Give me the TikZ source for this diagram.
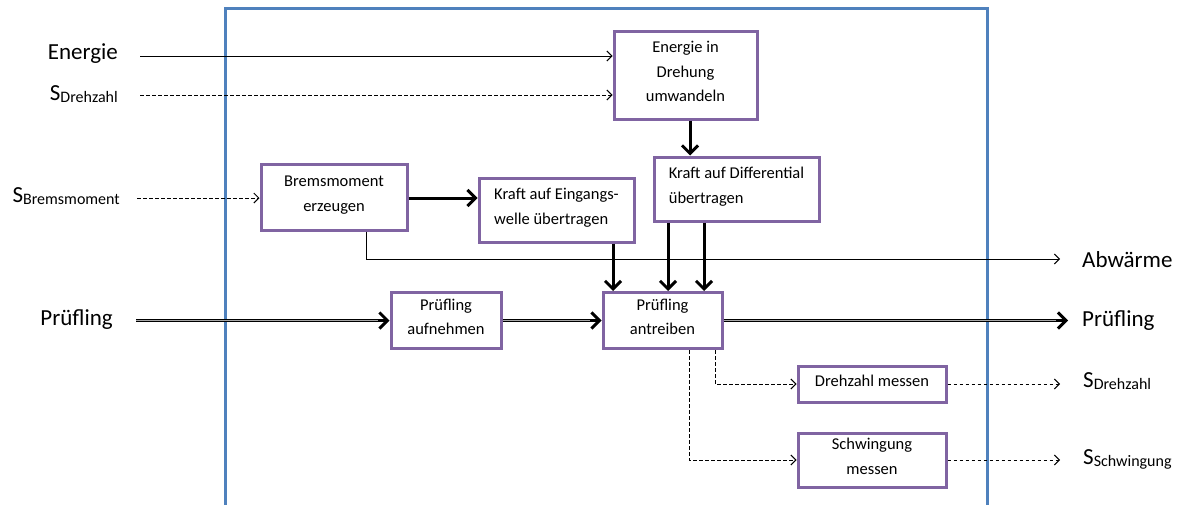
\documentclass[tikz,border=0pt]{standalone}
\usepackage{fontspec}
\setmainfont{Carlito}
\usetikzlibrary{arrows.meta,calc}
\definecolor{frameblue}{HTML}{4F81BD}
\definecolor{boxpurple}{HTML}{8064A2}
\newcommand\Ssub[1]{S\raisebox{-2pt}{\fontsize{16}{16}\selectfont #1}}
\begin{document}
\begin{tikzpicture}[x=1pt,y=-1pt,
  box/.style={draw=boxpurple,line width=3pt,fill=white,inner sep=0pt,align=center,
    text depth=7pt,font=\fontsize{16.5}{24.5}\selectfont},
  lbl/.style={font=\fontsize{23}{26}\selectfont,inner sep=0pt},
  thinarr/.style={line width=1pt,-{Straight Barb[length=5pt,width=10pt]}},
  dasharr/.style={line width=1pt,dash pattern=on 3.5pt off 2.5pt,-{Straight Barb[length=5pt,width=10pt]}},
  thickarr/.style={line width=3pt,-{Straight Barb[length=8pt,width=16pt]}},
  dbl/.style={draw=black,double=gray!70,line width=1pt,double distance=1.6pt}]
\useasboundingbox (0,0) rectangle (1186,504);
\clip (0,0) rectangle (1186,504);
\fill[white] (0,0) rectangle (1186,504);
\draw[frameblue,line width=3pt] (225,8) rectangle (987,530);

% boxes
\node[box,minimum width=143,minimum height=88] (E) at (685.5,75) {Energie in\\Drehung\\umwandeln};
\node[box,minimum width=165,minimum height=64,align=left] (KD) at (736.5,189) {Kraft auf Differential\\übertragen};
\node[box,minimum width=146,minimum height=66] (BM) at (334,197) {Bremsmoment\\erzeugen};
\node[box,minimum width=155,minimum height=64,align=left] (KE) at (556.5,210) {Kraft auf Eingangs-\\welle übertragen};
\node[box,minimum width=110,minimum height=56] (AU) at (446,320.5) {Prüfling\\aufnehmen};
\node[box,minimum width=119,minimum height=56] (AN) at (662.5,320.5) {Prüfling\\antreiben};
\node[box,minimum width=148,minimum height=36] (DM) at (872,384) {Drehzahl messen};
\node[box,minimum width=148,minimum height=54] (SM) at (872,460) {Schwingung\\messen};

% labels
\node[lbl,anchor=east] (lEn) at (118,54) {Energie};
\node[lbl,anchor=east] (lSD) at (118,94) {\Ssub{Drehzahl}};
\node[lbl,anchor=east] (lSB) at (120,196) {\Ssub{Bremsmoment}};
\node[lbl,anchor=east] (lP1) at (113,320) {Prüfling};
\node[lbl,anchor=west] (lAb) at (1082,260) {Abwärme};
\node[lbl,anchor=west] (lP2) at (1082,321) {Prüfling};
\node[lbl,anchor=west] (lSD2) at (1083,381) {\Ssub{Drehzahl}};
\node[lbl,anchor=west] (lSS) at (1083,459) {\Ssub{Schwingung}};

% inputs
\coordinate (c1) at (140,56);
\draw[thinarr] (c1) -- (c1 -| E.west);
\coordinate (c2) at (140,95);
\draw[dasharr] (c2) -- (c2 -| E.west);
\coordinate (c3) at (137,198);
\draw[dasharr] (c3) -- (c3 -| BM.west);

% thick arrows
\coordinate (c4) at (0,198);
\draw[thickarr] (c4 -| BM.east) -- (c4 -| KE.west);
\coordinate (x690) at (690,0);
\draw[thickarr] (x690 |- E.south) -- (x690 |- KD.north);
\coordinate (x613) at (613,0);
\draw[thickarr] (x613 |- KE.south) -- (x613 |- AN.north);
\coordinate (x668) at (668,0);
\draw[thickarr] (x668 |- KD.south) -- (x668 |- AN.north);
\coordinate (x704) at (704,0);
\draw[thickarr] (x704 |- KD.south) -- (x704 |- AN.north);

% Abwaerme
\coordinate (x366) at (366,0);
\coordinate (ab) at (1060,259);
\draw[thinarr] (x366 |- BM.south) |- (ab);

% Pruefling flow
\coordinate (p1) at (136,320.5);
\draw[dbl] (p1) -- ($(p1 -| AU.west)+(-5,0)$);
\draw[thickarr] ($(p1 -| AU.west)+(-12,0)$) -- (p1 -| AU.west);
\draw[dbl] (AU.east) -- ($(AN.west)+(-5,0)$);
\draw[thickarr] ($(AN.west)+(-12,0)$) -- (AN.west);
\coordinate (p2) at (1068,320.5);
\draw[dbl] (AN.east) -- ($(p2)+(-5,0)$);
\draw[thickarr] ($(p2)+(-12,0)$) -- (p2);

% measurements
\coordinate (x715) at (715,0);
\draw[dasharr] (x715 |- AN.south) |- (DM.west);
\coordinate (x689) at (689,0);
\draw[dasharr] (x689 |- AN.south) |- (SM.west);
\coordinate (o1) at (1060,384);
\draw[dasharr] (DM.east) -- (o1);
\coordinate (o2) at (1060,460);
\draw[dasharr] (SM.east) -- (o2);
\end{tikzpicture}
\end{document}
